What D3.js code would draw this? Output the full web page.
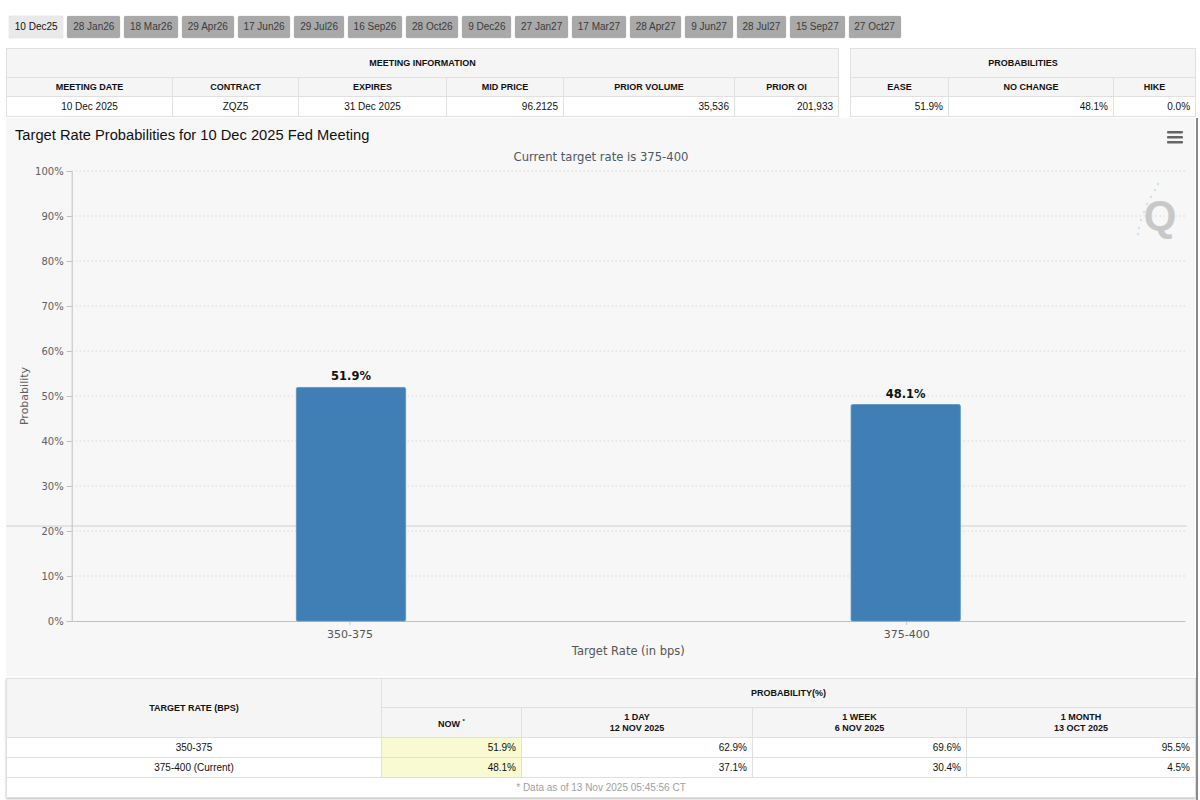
<!DOCTYPE html>
<html>
<head>
<meta charset="utf-8">
<script src="https://cdn.jsdelivr.net/npm/d3@7"></script>
<style>
body { margin: 0; width: 1200px; height: 800px; background: #fff; position: relative; overflow: hidden;
       font-family: "Liberation Sans", Arial, Helvetica, sans-serif; color: #111; }
#tabs { position: absolute; left: 9px; top: 16px; display: flex; gap: 4px; }
.tab { height: 22px; line-height: 22px; padding: 0 5.8px; font-size: 10px; background: #a9a9a9; color: #3b3b3b;
       border-radius: 2px; box-shadow: 0 0 1px #999; white-space: nowrap; }
.tab.active { background: #e9e9e9; color: #111; }
table { position: absolute; border-collapse: collapse; table-layout: fixed; }
td, th { border: 1px solid #e0e0e0; padding: 0 5px; overflow: hidden; white-space: nowrap; }
th { background: #f5f5f5; font-size: 9px; font-weight: bold; text-align: center; color: #111; }
td { background: #fff; font-size: 10px; }
td.c { text-align: center; } td.r { text-align: right; }
td.now { background: #f9f9d2; }
td.foot { text-align: center; color: #a0a0a0; background: #fff; }
#chart { position: absolute; left: 0; top: 118px; }
#edge { position: absolute; left: 1196px; top: 118px; width: 2px; height: 682px; background: #8a8a8a; }
</style>
</head>
<body>
<div id="tabs"></div>
<div id="meeting"></div>
<div id="probs"></div>
<svg id="chart" width="1200" height="560"></svg>
<div id="history"></div>
<div id="edge"></div>
<script>
// meeting tabs
const meetings = ["10 Dec25", "28 Jan26", "18 Mar26", "29 Apr26", "17 Jun26", "29 Jul26", "16 Sep26", "28 Oct26",
    "9 Dec26", "27 Jan27", "17 Mar27", "28 Apr27", "9 Jun27", "28 Jul27", "15 Sep27", "27 Oct27"];

// meeting information table
const meetingCols = ["MEETING DATE", "CONTRACT", "EXPIRES", "MID PRICE", "PRIOR VOLUME", "PRIOR OI"];
const meetingVals = ["10 Dec 2025", "ZQZ5", "31 Dec 2025", "96.2125", "35,536", "201,933"];

// probabilities table
const probCols = ["EASE", "NO CHANGE", "HIKE"];
const probVals = ["51.9%", "48.1%", "0.0%"];

// chart data
const targetRates = ["350-375", "375-400"];
const probNow = [51.9, 48.1];
const yTicks = [0, 10, 20, 30, 40, 50, 60, 70, 80, 90, 100];

// history table
const histCols = [["NOW", ""], ["1 DAY", "12 NOV 2025"], ["1 WEEK", "6 NOV 2025"], ["1 MONTH", "13 OCT 2025"]];
const histRows = ["350-375", "375-400 (Current)"];
const prob1Day = [62.9, 37.1];
const prob1Week = [69.6, 30.4];
const prob1Month = [95.5, 4.5];

const fmt = v => v.toFixed(1) + "%";

// ---- tabs
d3.select("#tabs").selectAll("div").data(meetings).join("div")
    .attr("class", (d, i) => i === 0 ? "tab active" : "tab")
    .text(d => d);

// ---- meeting info
function makeTable(sel, left, top, widths) {
    const t = d3.select(sel).append("table")
        .style("left", left + "px").style("top", top + "px")
        .style("width", d3.sum(widths) + "px");
    t.append("colgroup").selectAll("col").data(widths).join("col").style("width", d => d + "px");
    return t;
}

const mWidths = [166, 126, 148, 117, 171, 104];
const mt = makeTable("#meeting", 6, 48, mWidths);
mt.append("tr").style("height", "29px").append("th").attr("colspan", meetingCols.length).text("MEETING INFORMATION");
mt.append("tr").style("height", "19px").selectAll("th").data(meetingCols).join("th").text(d => d);
mt.append("tr").style("height", "20px").selectAll("td").data(meetingVals).join("td")
    .attr("class", (d, i) => i < 3 ? "c" : "r").text(d => d);

const pWidths = [98, 165, 82];
const pt = makeTable("#probs", 850, 48, pWidths);
pt.append("tr").style("height", "29px").append("th").attr("colspan", probCols.length).text("PROBABILITIES");
pt.append("tr").style("height", "19px").selectAll("th").data(probCols).join("th").text(d => d);
pt.append("tr").style("height", "20px").selectAll("td").data(probVals).join("td")
    .attr("class", "r").text(d => d);

// ---- chart
const svg = d3.select("#chart");
const margin = { left: 71.7, right: 1185, top: 53, bottom: 503 };
const chartFont = "'DejaVu Sans', Verdana, sans-serif";

svg.append("rect").attr("x", 6).attr("y", 0).attr("width", 1189).attr("height", 558).attr("fill", "#f7f7f7");

const x = d3.scaleBand().domain(targetRates).range([margin.left, margin.right])
    .paddingInner(0.803).paddingOuter(0.405);
const xCat = d3.scaleBand().domain(targetRates).range([margin.left, margin.right]);
const y = d3.scaleLinear().domain([0, 100]).range([margin.bottom, margin.top]);

// grid
svg.append("g").selectAll("line").data(yTicks.filter(d => d > 0)).join("line")
    .attr("x1", margin.left).attr("x2", margin.right)
    .attr("y1", d => y(d)).attr("y2", d => y(d))
    .attr("stroke", "#c9c9c9").attr("stroke-width", 1).attr("stroke-dasharray", "1,3");

// stray solid line seen across the screenshot
svg.append("line").attr("x1", 6).attr("x2", 1187).attr("y1", 408).attr("y2", 408)
    .attr("stroke", "#d0d0d0").attr("stroke-width", 1);

// y axis
const yAxis = svg.append("g").attr("transform", `translate(${margin.left},0)`)
    .call(d3.axisLeft(y).tickValues(yTicks).tickFormat(d => d + "%").tickSize(5).tickPadding(3));
yAxis.select(".domain").attr("stroke", "#c0c0c0");
yAxis.selectAll(".tick line").attr("stroke", "#c0c0c0");
yAxis.selectAll("text").attr("fill", "#606060").style("font-family", chartFont).style("font-size", "10px");

// x axis
const xAxis = svg.append("g").attr("transform", `translate(0,${margin.bottom})`)
    .call(d3.axisBottom(xCat).tickSize(4).tickPadding(5).tickSizeOuter(0));
xAxis.select(".domain").attr("stroke", "#c0c0c0");
xAxis.selectAll(".tick line").attr("stroke", "#c8c8c8");
xAxis.selectAll("text").attr("fill", "#555").style("font-family", chartFont).style("font-size", "11px");

// bars
svg.append("g").selectAll("rect").data(targetRates).join("rect")
    .attr("x", d => x(d)).attr("width", x.bandwidth())
    .attr("y", (d, i) => y(probNow[i])).attr("height", (d, i) => y(0) - y(probNow[i]))
    .attr("rx", 1.5).attr("fill", "#3f7fb5").attr("stroke", "#5b92c0").attr("stroke-width", 0.8);

svg.append("g").selectAll("text").data(targetRates).join("text")
    .attr("x", d => x(d) + x.bandwidth() / 2)
    .attr("y", (d, i) => y(probNow[i]) - 7)
    .attr("text-anchor", "middle")
    .style("font-family", chartFont).style("font-size", "11.5px").style("font-weight", "bold")
    .attr("fill", "#111").text((d, i) => fmt(probNow[i]));

// titles
svg.append("text").attr("x", 15).attr("y", 22)
    .style("font-family", "'Liberation Sans', Arial, sans-serif").style("font-size", "14.7px")
    .attr("fill", "#111").text("Target Rate Probabilities for 10 Dec 2025 Fed Meeting");

svg.append("text").attr("x", 601).attr("y", 43).attr("text-anchor", "middle")
    .style("font-family", chartFont).style("font-size", "11.6px")
    .attr("fill", "#4d5866").text("Current target rate is 375-400");

svg.append("text").attr("x", (margin.left + margin.right) / 2).attr("y", 537).attr("text-anchor", "middle")
    .style("font-family", chartFont).style("font-size", "11.5px")
    .attr("fill", "#555").text("Target Rate (in bps)");

svg.append("text").attr("transform", `translate(28,${(margin.top + margin.bottom) / 2}) rotate(-90)`)
    .attr("text-anchor", "middle")
    .style("font-family", chartFont).style("font-size", "11px")
    .attr("fill", "#606060").text("Probability");

// hamburger menu
svg.append("g").selectAll("rect").data([0, 1, 2]).join("rect")
    .attr("x", 1167).attr("y", d => 13 + d * 5).attr("width", 16).attr("height", 2.5)
    .attr("rx", 1).attr("fill", "#666");

// watermark
const wm = svg.append("g").attr("opacity", 0.9);
wm.append("text").attr("x", 1160).attr("y", 112).attr("text-anchor", "middle")
    .style("font-family", "'Liberation Sans', Arial, sans-serif").style("font-size", "42px")
    .style("font-weight", "bold").attr("fill", "#c4c4c4").text("Q");
wm.selectAll("circle").data([[1158, 66], [1155, 72], [1151, 79], [1147, 86], [1144, 94], [1141, 102], [1139, 110], [1138, 116]])
    .join("circle").attr("cx", d => d[0]).attr("cy", d => d[1]).attr("r", 1.2).attr("fill", "#c9e3ea");

// ---- history table
const hWidths = [375, 140, 231, 214, 229];
const ht = makeTable("#history", 6, 678, hWidths);
const h1 = ht.append("tr").style("height", "29px");
h1.append("th").attr("rowspan", 2).text("TARGET RATE (BPS)");
h1.append("th").attr("colspan", 4).style("font-weight", "bold").text("PROBABILITY(%)");
ht.append("tr").style("height", "30px").selectAll("th").data(histCols).join("th")
    .html((d, i) => i === 0 ? `NOW <sup style="font-size:6px">*</sup>` : `${d[0]}<br>${d[1]}`)
    .style("line-height", "11px");
histRows.forEach((r, i) => {
    const tr = ht.append("tr").style("height", "20px");
    tr.append("td").attr("class", "c").text(r);
    [probNow, prob1Day, prob1Week, prob1Month].forEach((s, j) => {
        tr.append("td").attr("class", j === 0 ? "r now" : "r").text(fmt(s[i]));
    });
});
ht.append("tr").style("height", "20px").append("td").attr("colspan", 5).attr("class", "foot")
    .text("* Data as of 13 Nov 2025 05:45:56 CT");
ht.style("box-shadow", "0 1px 2px #bbb");
</script>
</body>
</html>
